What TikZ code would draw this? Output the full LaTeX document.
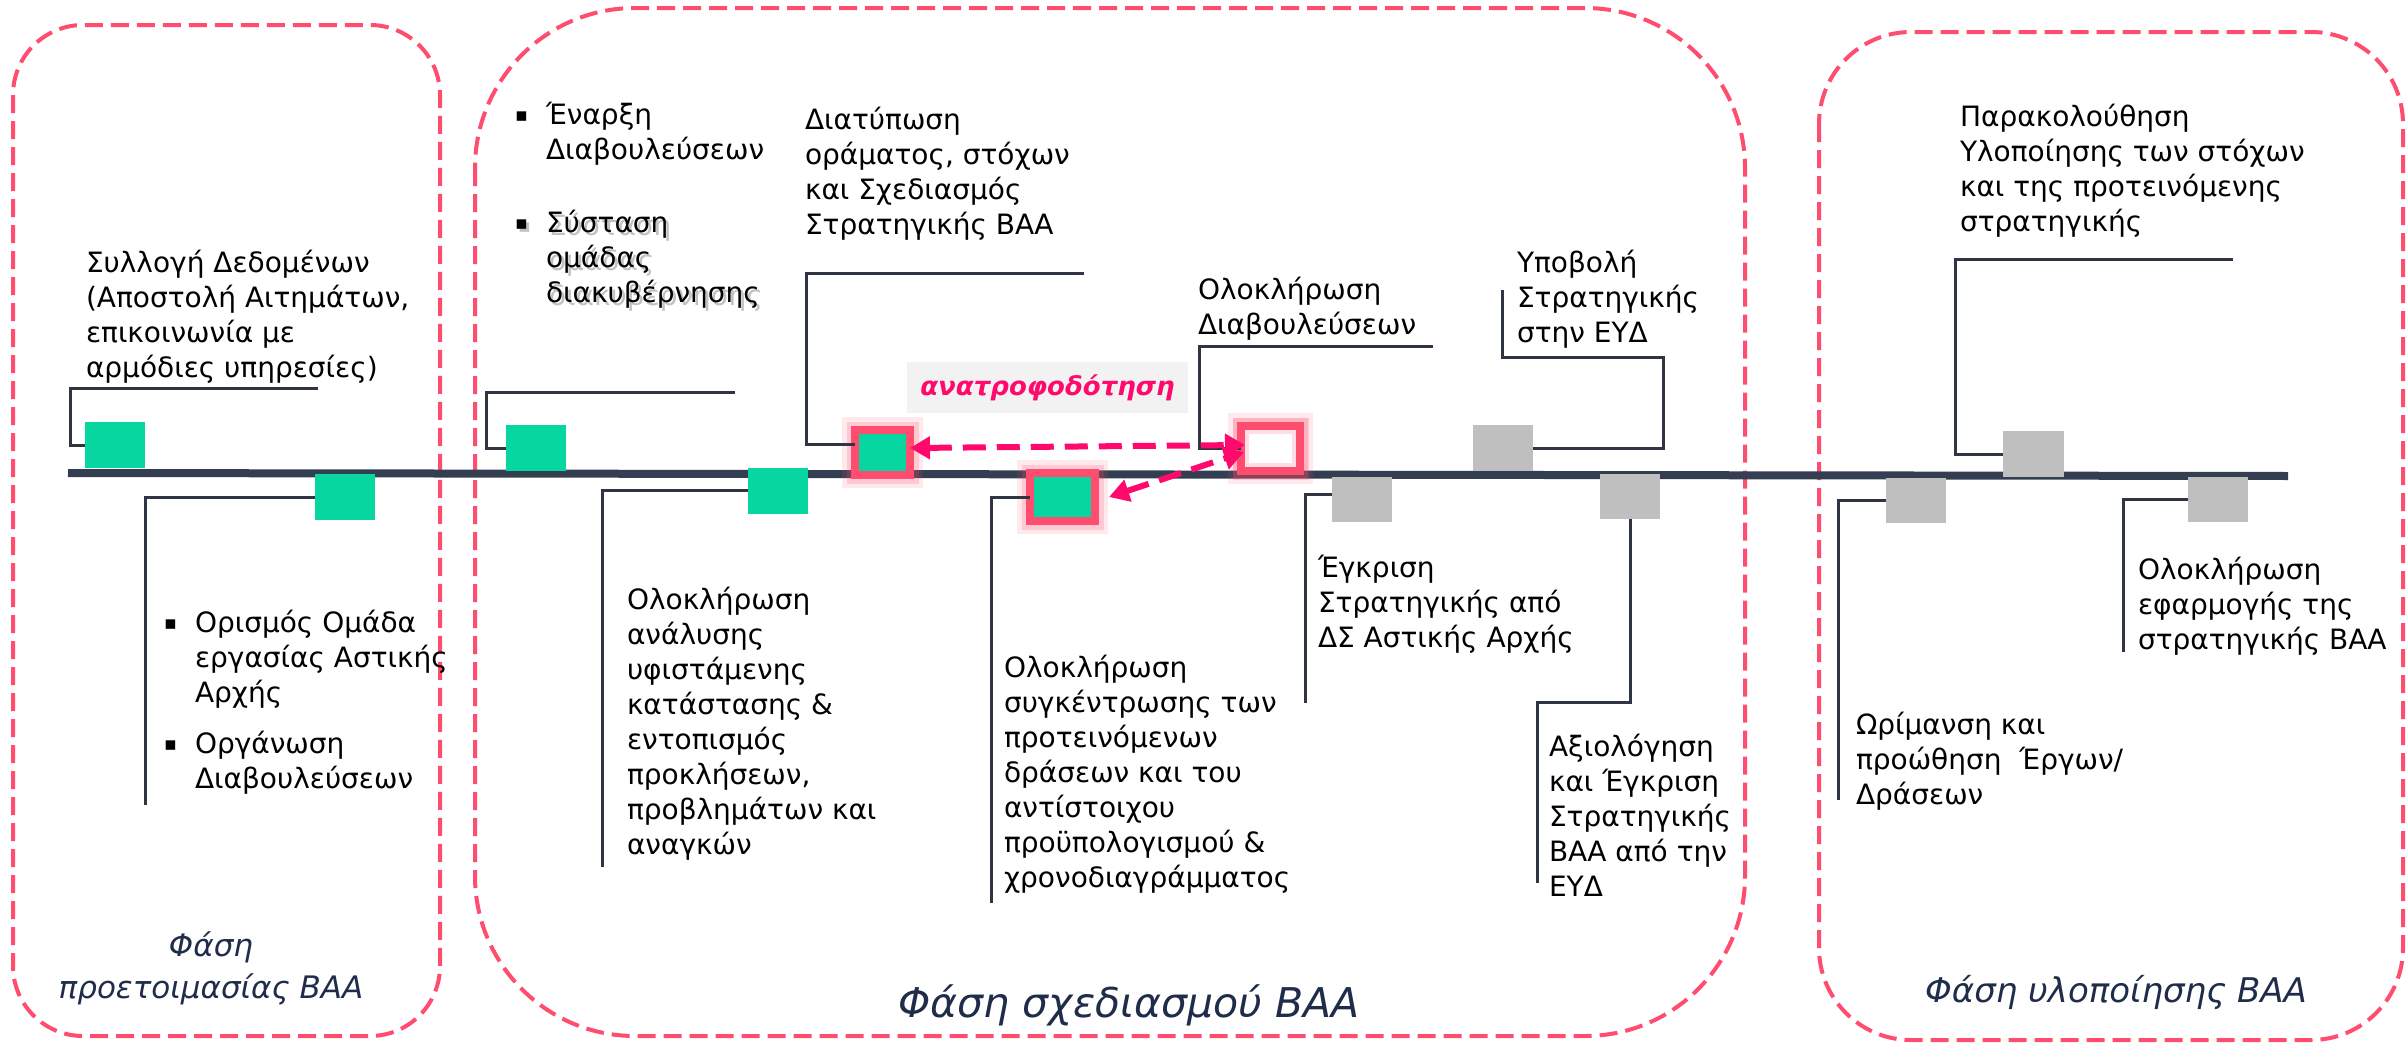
\documentclass[tikz,border=0pt]{standalone}
\usepackage{fontspec}
\setmainfont{DejaVu Sans}
\usetikzlibrary{arrows.meta}
\definecolor{boxpink}{HTML}{FF4D6F}
\definecolor{arrpink}{HTML}{FF0A6C}
\definecolor{mgreen}{HTML}{08D6A0}
\definecolor{mgray}{HTML}{BFBFBF}
\definecolor{tlinec}{HTML}{333F50}
\definecolor{connc}{HTML}{2F3542}
\definecolor{phasec}{HTML}{1F2D4A}
\definecolor{lblbg}{HTML}{F2F2F2}
\newcommand{\mylines}[1]{\begin{tabular}{@{}l@{}}#1\end{tabular}}
\newcommand{\mybul}[1]{\begin{tabular}{@{}p{31pt}@{}l@{}}#1\end{tabular}}
\newcommand{\bul}{\raisebox{3pt}{\fontsize{19}{35}\selectfont ▪}}
\begin{document}
\begin{tikzpicture}[x=1pt,y=-1pt,
  phasebox/.style={draw=boxpink,line width=4pt,dash pattern=on 18pt off 8pt},
  txt/.style={anchor=north west,inner sep=0pt,outer sep=0pt,font=\fontsize{28}{35}\selectfont,text=black},
  sq/.style={minimum width=60pt,minimum height=46pt,inner sep=0pt,outer sep=0pt},
  gsq/.style={sq,fill=mgreen},
  ysq/.style={sq,fill=mgray},
  hl/.style={draw=boxpink,line width=8pt,inner sep=0pt,outer sep=0pt,
    preaction={draw=boxpink,draw opacity=0.12,line width=26pt},
    preaction={draw=boxpink,draw opacity=0.2,line width=17pt}},
  conn/.style={draw=connc,line width=3pt},
  tl/.style={draw=tlinec,line width=8pt},
  fb/.style={draw=arrpink,line width=6pt,dash pattern=on 23pt off 11pt,
    {Triangle[length=20pt,width=22pt]}-{Triangle[length=20pt,width=22pt]}},
  phasetxt/.style={text=phasec,inner sep=0pt}
]
\fill[white] (0,0) rectangle (2407,1044);
\useasboundingbox (0,0) rectangle (2407,1044);

% phase frames
\draw[phasebox,rounded corners=70pt] (13,25) rectangle (440,1036);
\draw[phasebox,rounded corners=160pt] (475,8) rectangle (1745,1036);
\draw[phasebox,rounded corners=92pt] (1819,32) rectangle (2403,1040);

% timeline
\coordinate (tlA) at (68,473);
\coordinate (tlB) at (2288,476);
\draw[tl] (tlA) -- (tlB);

% milestones
\node[gsq] (g1) at (115,445) {};
\node[gsq] (g2) at (345,497) {};
\node[gsq] (g3) at (535.5,448) {};
\node[gsq] (g4) at (777.5,490.5) {};
\node[hl,fill=mgreen,minimum width=55pt,minimum height=45pt] (g5) at (882.5,452.5) {};
\node[hl,fill=mgreen,minimum width=65pt,minimum height=48pt] (g6) at (1062.5,497) {};
\node[hl,fill=white,minimum width=59pt,minimum height=45pt,
  postaction={draw=boxpink,draw opacity=0.18,line width=16pt}] (w7) at (1270.5,448.5) {};
\node[ysq] (y1) at (1503,448) {};
\node[ysq,minimum height=45pt] (y2) at (1362,499.5) {};
\node[ysq,minimum height=45pt] (y3) at (1630,496.5) {};
\node[ysq,minimum width=61pt] (y4) at (2033.5,454) {};
\node[ysq,minimum height=45pt] (y5) at (1916,500.5) {};
\node[ysq,minimum height=45pt] (y6) at (2218,499.5) {};

% free ends of connectors
\coordinate (e1) at (318,388);
\coordinate (e2) at (145,805);
\coordinate (e3) at (735,392);
\coordinate (e4) at (602,867);
\coordinate (e5) at (1084,273);
\coordinate (e6) at (991,903);
\coordinate (e7) at (1433,346);
\coordinate (e8) at (1502,290);
\coordinate (e9) at (1305,703);
\coordinate (e10) at (1537,883);
\coordinate (e11) at (2233,259);
\coordinate (e12) at (1838,800);
\coordinate (e13) at (2123,652);

% connectors
\draw[conn] (g1.west) -- ++(-15,0) |- (e1);
\draw[conn] (g2.west) -| (e2);
\draw[conn] (g3.west) -- ++(-19,0) |- (e3);
\draw[conn] (g4.west) -| (e4);
\draw[conn] ([yshift=8pt]g5.west) -- ++(-49,0) |- (e5);
\draw[conn] (g6.west) -| (e6);
\draw[conn] (w7.west) -- ++(-42,0) |- (e7);
\draw[conn] (y1.east) -- ++(130,0) |- (1502,357) -- (e8);
\draw[conn] ([yshift=5pt]y2.west) -| (e9);
\draw[conn] (y3.south) -- ++(0,183) -| (e10);
\draw[conn] (y4.west) -- ++(-48,0) |- (e11);
\draw[conn] (y5.west) -| (e12);
\draw[conn] (y6.west) -| (e13);

% texts
\node[txt] (t1) at (86,248) {\mylines{Συλλογή Δεδομένων\\(Αποστολή Αιτημάτων,\\επικοινωνία με\\αρμόδιες υπηρεσίες)}};
\node[txt] (t2) at (164,608) {\mybul{\bul & Ορισμός Ομάδα\\ & εργασίας Αστικής\\ & Αρχής\\[16pt] \bul & Οργάνωση\\ & Διαβουλεύσεων}};
\node[txt] (t3a) at (515,100) {\mybul{\bul & Έναρξη\\ & Διαβουλεύσεων}};
\node[txt,text=black!40,opacity=0.6] (t3s) at (518,211) {\mybul{\bul & Σύσταση\\ & ομάδας\\ & διακυβέρνησης}};
\node[txt] (t3b) at (515,208) {\mybul{\bul & Σύσταση\\ & ομάδας\\ & διακυβέρνησης}};
\node[txt] (t4) at (627,585) {\mylines{Ολοκλήρωση\\ανάλυσης\\υφιστάμενης\\κατάστασης \&\\εντοπισμός\\προκλήσεων,\\προβλημάτων και\\αναγκών}};
\node[txt] (t5) at (805,105) {\mylines{Διατύπωση\\οράματος, στόχων\\και Σχεδιασμός\\Στρατηγικής ΒΑΑ}};
\node[txt] (t6) at (1004,653) {\mylines{Ολοκλήρωση\\συγκέντρωσης των\\προτεινόμενων\\δράσεων και του\\αντίστοιχου\\προϋπολογισμού \&\\χρονοδιαγράμματος}};
\node[txt] (t7) at (1198,275) {\mylines{Ολοκλήρωση\\Διαβουλεύσεων}};
\node[txt] (t8) at (1517,248) {\mylines{Υποβολή\\Στρατηγικής\\στην ΕΥΔ}};
\node[txt] (t9) at (1318,553) {\mylines{Έγκριση\\Στρατηγικής από\\ΔΣ Αστικής Αρχής}};
\node[txt] (t10) at (1549,732) {\mylines{Αξιολόγηση\\και Έγκριση\\Στρατηγικής\\ΒΑΑ από την\\ΕΥΔ}};
\node[txt] (t11) at (1960,102) {\mylines{Παρακολούθηση\\Υλοποίησης των στόχων\\και της προτεινόμενης\\στρατηγικής}};
\node[txt] (t12) at (1856,710) {\mylines{Ωρίμανση και\\προώθηση\ \ Έργων/\\Δράσεων}};
\node[txt] (t13) at (2138,555) {\mylines{Ολοκλήρωση\\εφαρμογής της\\στρατηγικής ΒΑΑ}};

% phase labels
\node[phasetxt,anchor=north,font=\itshape\fontsize{31}{42}\selectfont] (p1) at (211,927) {\begin{tabular}{@{}c@{}}Φάση\\προετοιμασίας ΒΑΑ\end{tabular}};
\node[phasetxt,anchor=base,font=\itshape\fontsize{41}{48}\selectfont] (p2) at (1129,1017) {Φάση σχεδιασμού ΒΑΑ};
\node[phasetxt,anchor=base,font=\itshape\fontsize{34}{40}\selectfont] (p3) at (2116,1002.5) {Φάση υλοποίησης ΒΑΑ};

% feedback label
\node[fill=lblbg,minimum width=281pt,minimum height=51pt,inner sep=0pt,
  text=arrpink,font=\bfseries\itshape\fontsize{26}{32}\selectfont] (fbl) at (1047.5,387.5) {ανατροφοδότηση};

% feedback arrows
\draw[fb] ([yshift=4.5pt]g5.east) -- ([shift={(4pt,3.5pt)}]w7.west);
\draw[fb] ([xshift=14pt]g6.east) -- ([shift={(3pt,-3.5pt)}]w7.west);
\end{tikzpicture}
\end{document}
